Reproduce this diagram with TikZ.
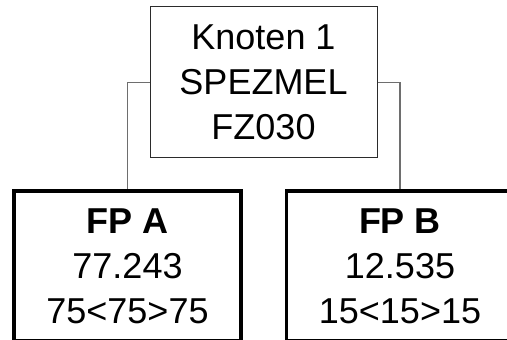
\documentclass[tikz,border=0pt]{standalone}
\usepackage{fontspec}
\setmainfont{Liberation Sans}
\usetikzlibrary{positioning}
\definecolor{treeGrey}{HTML}{6E6E6E}
\definecolor{boxGrey}{HTML}{2B2B2B}
\tikzset{
  rootbox/.style = {draw=boxGrey, line width=1pt, minimum width=227pt,
                    minimum height=151pt, align=center, inner sep=0pt,
                    font=\fontsize{36}{45}\selectfont},
  leafbox/.style = {draw=black, line width=3.6pt, minimum width=227pt,
                    minimum height=150pt, align=center, inner sep=0pt,
                    font=\fontsize{36}{45}\selectfont},
  conn/.style    = {treeGrey, line width=1.2pt},
}
\begin{document}
\begin{tikzpicture}[x=1pt,y=1pt]
  \useasboundingbox (0,0) rectangle (507,340);
  \clip (0,0) rectangle (507,340);
  % root of the tree
  \node[rootbox] (knoten) at (263.5,257.5) {Knoten 1\\SPEZMEL\\FZ030};
  % the two leaves
  \node[leafbox] (fpa) at (127.5,74) {\textbf{FP A}\\77.243\\75<75>75};
  \node[leafbox] (fpb) at (400,74) {\textbf{FP B}\\12.535\\15<15>15};
  % branches
  \draw[conn] (knoten.west) -| (fpa.north);
  \draw[conn] (knoten.east) -| (fpb.north);
\end{tikzpicture}
\end{document}
